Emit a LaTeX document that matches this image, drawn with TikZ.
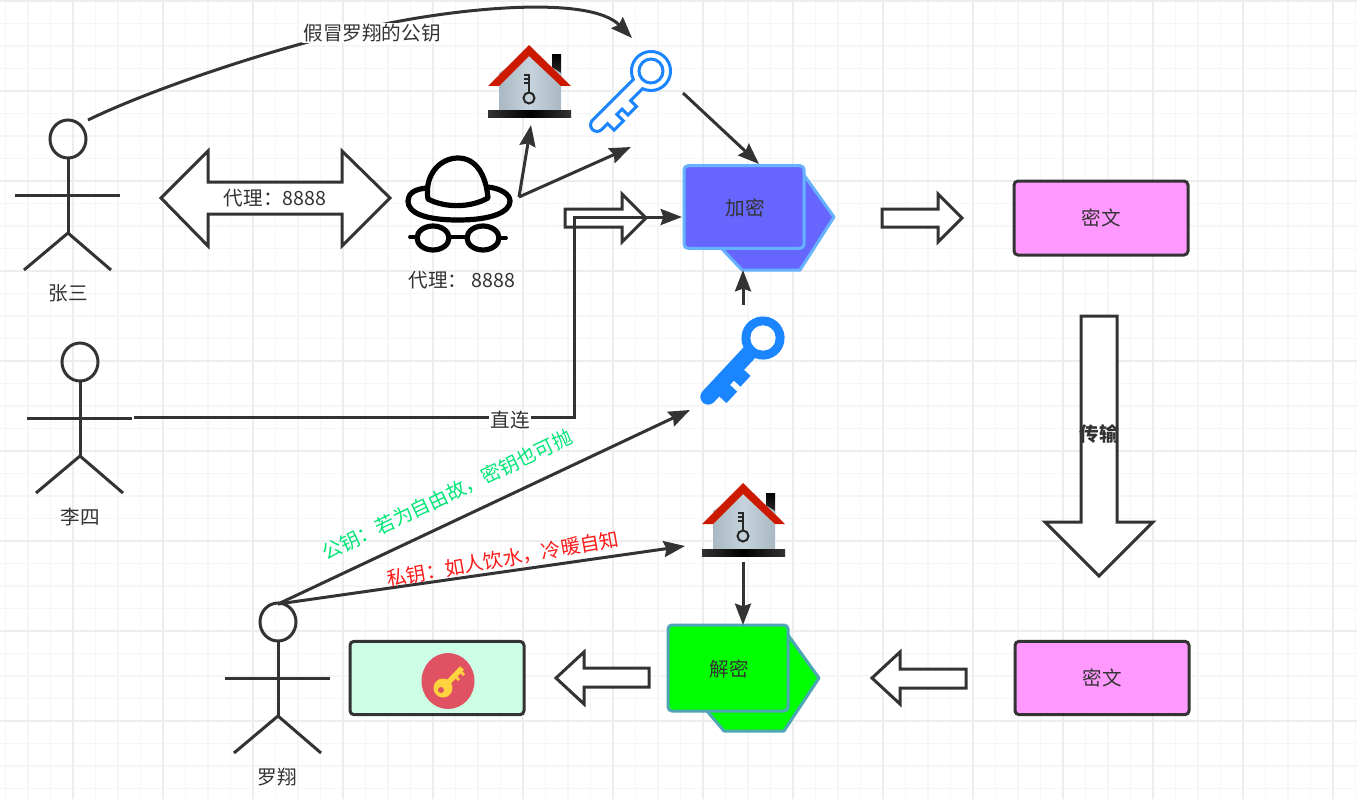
\documentclass[tikz,border=0pt]{standalone}
\usepackage{fontspec}
\setmainfont{Noto Sans CJK SC}
\usepackage{xcolor}
\usepackage{tikz}
\usetikzlibrary{positioning, arrows.meta, calc}

\definecolor{inkgray}{HTML}{333333}
\definecolor{gridminor}{HTML}{F6F6F6}
\definecolor{gridmajor}{HTML}{EDEDED}
\definecolor{keyblue}{HTML}{1A85FF}
\definecolor{pinkbox}{HTML}{FF99FF}
\definecolor{mintbox}{HTML}{CCFFE6}
\definecolor{encfill}{HTML}{6666FF}
\definecolor{encline}{HTML}{66B2FF}
\definecolor{decfill}{HTML}{00FF00}
\definecolor{decline}{HTML}{4DA6B3}
\definecolor{roofred}{HTML}{CC1A00}
\definecolor{wallgray}{HTML}{A9B8C2}
\definecolor{walllight}{HTML}{C6D3DC}
\definecolor{greennote}{HTML}{00E676}
\definecolor{rednote}{HTML}{FF1A1A}
\definecolor{badgered}{HTML}{E05263}
\definecolor{badgekey}{HTML}{FFD33D}

% full width punctuation
\newcommand{\fwcolon}{\symbol{"FF1A}}
\newcommand{\fwcomma}{\symbol{"FF0C}}

% outline of a key, ring at the origin, shaft along x
\newcommand{\keyoutline}{(19.8,7) arc[start angle=19.5, end angle=340.5, radius=21]
  -- (38,-7) -- (38,-16) -- (51,-16) -- (51,-7) -- (59,-7) -- (59,-17) -- (73,-17) -- (73,-7)
  -- (82,-7) arc[start angle=-90, end angle=90, radius=7] -- cycle}

\begin{document}
\begin{tikzpicture}[
  x=0.75pt, y=-0.75pt,
  outline/.style={draw=inkgray, line width=2.25pt},
  block/.style={outline, fill=white, line join=miter},
  txt/.style={text=inkgray, font=\fontsize{14.7}{17}\selectfont, inner sep=1pt},
  cipher/.style={outline, fill=pinkbox, rounded corners=3pt},
  arr/.style={draw=inkgray, line width=2.25pt, -{Stealth[length=16pt, width=12pt, inset=2pt]}},
  spyline/.style={draw=black, line width=3.9pt, line join=round, line cap=round},
  actor/.pic={
    \draw[outline] (0,0) ellipse[x radius=18, y radius=19];
    \draw[outline] (0,19) -- (0,94);
    \draw[outline] (-53,56) -- (52,56);
    \draw[outline] (-44,131) -- (0,94) -- (43,131);
  },
  house/.pic={
    \shade[top color=black, bottom color=inkgray] (23,10) rectangle (32,32);
    \shade[left color=wallgray, right color=wallgray, middle color=walllight]
      (-30,28) -- (0,8) -- (32,28) -- (32,66) -- (-30,66) -- cycle;
    \fill[roofred] (0,0) -- (42,41) -- (32,41) -- (0,11) -- (-30,41) -- (-41,41) -- cycle;
    \shade[left color=inkgray, right color=inkgray, middle color=black] (-41,66) rectangle (42,73);
    \draw[black!85, line width=1.5pt] (0,53) circle[radius=5.5];
    \draw[black!85, line width=1.8pt] (0,47) -- (0,29);
    \draw[black!85, line width=1pt] (0,30) -- (-5,30) (0,34) -- (-5,34) (0,38) -- (-5,38);
  },
  hollowkey/.pic={
    \draw[draw=keyblue, line width=2.25pt, line join=miter, fill=white, scale=0.93] \keyoutline;
    \draw[draw=keyblue, line width=2.25pt] (0,0) circle[radius=12];
  },
  solidkey/.pic={
    \draw[draw=keyblue, fill=keyblue, line width=1.5pt, even odd rule, scale=0.98] \keyoutline (0,0) circle[radius=14];
  }
]
\useasboundingbox (0,0) rectangle (1357,799);
\fill[white] (0,0) rectangle (1357,799);

% Grid
\foreach \gx in {5.5,28,...,1357} \draw[gridminor, line width=1.1pt] (\gx,0) -- (\gx,799);
\foreach \gy in {1,23.5,...,799} \draw[gridminor, line width=1.1pt] (0,\gy) -- (1357,\gy);
\foreach \gx in {73,163,...,1357} \draw[gridmajor, line width=1.4pt] (\gx,0) -- (\gx,799);
\foreach \gy in {1,91,...,799} \draw[gridmajor, line width=1.4pt] (0,\gy) -- (1357,\gy);

% People
\pic (zhang) at (68,139) {actor};
\pic (lisi) at (80,362) {actor};
\pic (luo) at (278,622) {actor};
\node[txt] (zhanglabel) at (68,293) {张三};
\node[txt] (lisilabel) at (80,517) {李四};
\node[txt] (luolabel) at (277,777) {罗翔};

% Proxy with hat and glasses
\draw[block] (161,198) -- (208,151) -- (208,182) -- (342,182) -- (342,151) -- (390,198)
  -- (342,246) -- (342,214) -- (208,214) -- (208,246) -- cycle;
\node[txt] (proxyport) at (275,198) {代理\fwcolon 8888};
\draw[spyline] (428,199) .. controls (424,175) and (440,158) .. (458,158)
  .. controls (476,158) and (486,175) .. (488,198) .. controls (470,208) and (445,208) .. (428,199) -- cycle;
\draw[spyline] (427,188) .. controls (414,189) and (408,194) .. (408,201)
  .. controls (408,213) and (425,220) .. (458,220) .. controls (492,220) and (510,212) .. (510,201)
  .. controls (510,194) and (500,188) .. (487,187);
\draw[spyline] (433,238) ellipse[x radius=16, y radius=12];
\draw[spyline] (483,238) ellipse[x radius=16, y radius=12];
\draw[spyline, line width=2.8pt] (410,237) -- (417,237) (449,237) -- (467,237) (499,238) -- (506,238);
\node[txt] (proxylabel) at (462,280) {代理\fwcolon\ 8888};

% Key stores and keys
\pic (safetop) at (529,45) {house};
\pic (safebottom) at (743,483) {house};
\pic[rotate=225] (fakekey) at (651,71) {hollowkey};
\pic[rotate=227] (realkey) at (763,338) {solidkey};

% Encrypt and decrypt
\draw[draw=encline, fill=encfill, line width=2.25pt, line join=round]
  (804,175) -- (834,217) -- (800,270) -- (742,270) -- (722,249) -- cycle;
\node[draw=encline, fill=encfill, line width=2.25pt, rounded corners=3pt, minimum width=90pt, minimum height=62pt,
  inner sep=0pt] (encrypt) at (744,207) {};
\node[txt] (encryptlabel) at (745,208) {加密};
\draw[draw=decline, fill=decfill, line width=2.25pt, line join=round]
  (788,635) -- (819,678) -- (784,731) -- (724,731) -- (707,711) -- cycle;
\node[draw=decline, fill=decfill, line width=2.25pt, rounded corners=3pt, minimum width=90pt, minimum height=64.5pt,
  inner sep=0pt] (decrypt) at (728,668) {};
\node[txt] (decryptlabel) at (729,669) {解密};

% Cipher text and the way back
\draw[block] (565,209) -- (622,209) -- (622,194) -- (646,218) -- (622,242) -- (622,227) -- (565,227) -- cycle;
\draw[block] (882,209) -- (938,209) -- (938,194) -- (962,218) -- (938,242) -- (938,227) -- (882,227) -- cycle;
\node[cipher, minimum width=130.5pt, minimum height=55.5pt] (cipherup) at (1101,218) {};
\node[txt] (cipheruplabel) at (1101,218) {密文};
\draw[block] (1081,316) -- (1117,316) -- (1117,522) -- (1153,522) -- (1099,576) -- (1045,522) -- (1081,522) -- cycle;
\node[txt, font=\fontsize{14.7}{17}\selectfont\bfseries] (transfer) at (1099,434) {传输};
\node[cipher, minimum width=130.5pt, minimum height=55pt] (cipherdown) at (1102,678) {};
\node[txt] (cipherdownlabel) at (1102,678) {密文};
\draw[block] (966,669) -- (900,669) -- (900,652) -- (872,678) -- (900,704) -- (900,688) -- (966,688) -- cycle;
\draw[block] (649,668) -- (584,668) -- (584,652) -- (556,678) -- (584,704) -- (584,687) -- (649,687) -- cycle;

% Private key box
\node[outline, fill=mintbox, rounded corners=3pt, minimum width=130.5pt, minimum height=55pt] (keybox) at (437,678) {};
\fill[badgered] (448,681) ellipse[x radius=26.5, y radius=28];
\draw[badgekey, line width=4pt] (443,688) -- (462,668);
\draw[badgekey, line width=2pt] (455,676) -- (459,680) (460,671) -- (464,675);
\fill[badgekey] (443,688) circle[radius=9.5];
\fill[badgered] (441,690) circle[radius=3];

% Anchors of the connectors
\coordinate (zhangout) at (88,120);
\coordinate (fakein) at (632,38);
\coordinate (lisiout) at (134,417);
\coordinate (bend) at (574,417);
\coordinate (spyout) at (519,197);
\coordinate (safetopin) at (531,125);
\coordinate (fakekeyin) at (631,147);
\coordinate (fakekeyout) at (683,93);
\coordinate (encin) at (759,164);
\coordinate (realkeyout) at (743,305);
\coordinate (encbottom) at (743,270);
\coordinate (luoout) at (278,604);
\coordinate (realkeyin) at (690,410);
\coordinate (safebottomin) at (685,546);
\coordinate (safebottomout) at (743,562);
\coordinate (decin) at (743,625);

% Connectors
\draw[arr] (zhangout) .. controls (160,85) and (300,40) .. (380,25)
  .. controls (460,8) and (590,-5) .. (fakein);
\node[txt, fill=white] (fakelabel) at (372,33) {假冒罗翔的公钥};
\draw[arr] (lisiout) -- (bend) -- (574,217) -- (682,217);
\node[txt, fill=white] (directlabel) at (510,420) {直连};
\draw[arr] (spyout) -- (safetopin);
\draw[arr] (spyout) -- (fakekeyin);
\draw[arr] (fakekeyout) -- (encin);
\draw[arr] (realkeyout) -- (encbottom);
\draw[arr] (luoout) -- (realkeyin);
\draw[arr] (luoout) -- (safebottomin);
\draw[arr] (safebottomout) -- (decin);

% Notes on the key lines
\node[txt, text=greennote, rotate=25.6] (pubnote) at (447,495) {公钥\fwcolon 若为自由故\fwcomma 密钥也可抛};
\node[txt, text=rednote, rotate=10] (privnote) at (503,559) {私钥\fwcolon 如人饮水\fwcomma 冷暖自知};

\end{tikzpicture}
\end{document}
